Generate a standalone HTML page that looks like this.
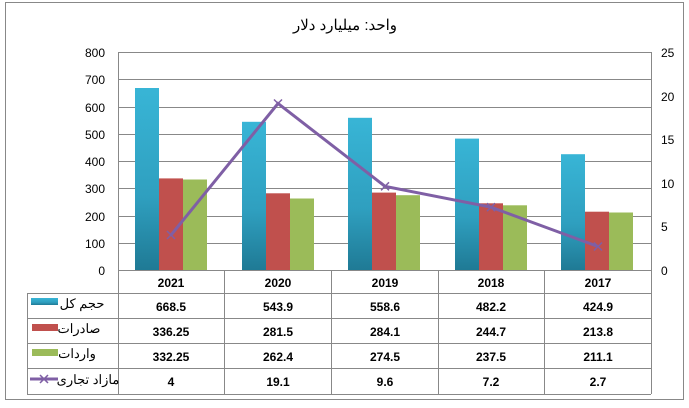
<!DOCTYPE html><html><head><meta charset="utf-8"><style>body{margin:0;background:#fff}svg text{font-family:"Liberation Sans","Noto Sans CJK SC",sans-serif}</style></head><body>
<svg width="689" height="403" xmlns="http://www.w3.org/2000/svg">
<defs><linearGradient id="b" x1="0" y1="0" x2="0" y2="1"><stop offset="0" stop-color="#38b5d6"/><stop offset="0.6" stop-color="#2f9fbf"/><stop offset="1" stop-color="#1f7a95"/></linearGradient></defs>
<rect x="5.5" y="2.5" width="678" height="397" fill="#fff" stroke="#888"/>
<text x="345" y="30" font-size="15" text-anchor="middle">واحد: میلیارد دلار</text>
<g stroke="#888" stroke-width="1">
<line x1="118" y1="52.5" x2="651" y2="52.5"/><line x1="118" y1="79.5" x2="651" y2="79.5"/><line x1="118" y1="107.5" x2="651" y2="107.5"/><line x1="118" y1="134.5" x2="651" y2="134.5"/><line x1="118" y1="161.5" x2="651" y2="161.5"/><line x1="118" y1="188.5" x2="651" y2="188.5"/><line x1="118" y1="216.5" x2="651" y2="216.5"/><line x1="118" y1="243.5" x2="651" y2="243.5"/>
<line x1="118.5" y1="52" x2="118.5" y2="394"/><line x1="651.5" y1="52" x2="651.5" y2="394"/>
</g>
<g font-size="12" text-anchor="end"><text x="105" y="57">800</text><text x="105" y="84">700</text><text x="105" y="112">600</text><text x="105" y="139">500</text><text x="105" y="166">400</text><text x="105" y="193">300</text><text x="105" y="221">200</text><text x="105" y="248">100</text><text x="105" y="275">0</text></g>
<g font-size="12"><text x="661" y="57">25</text><text x="661" y="101">20</text><text x="661" y="144">15</text><text x="661" y="188">10</text><text x="661" y="231">5</text><text x="661" y="275">0</text></g>
<g>
<rect x="135" y="88" width="24" height="182" fill="url(#b)"/><rect x="159" y="178.4" width="24" height="91.6" fill="#c0504d"/><rect x="183" y="179.5" width="24" height="90.5" fill="#9bbb59"/>
<rect x="242" y="121.8" width="24" height="148.2" fill="url(#b)"/><rect x="266" y="193.3" width="24" height="76.7" fill="#c0504d"/><rect x="290" y="198.5" width="24" height="71.5" fill="#9bbb59"/>
<rect x="348" y="117.8" width="24" height="152.2" fill="url(#b)"/><rect x="372" y="192.6" width="24" height="77.4" fill="#c0504d"/><rect x="396" y="195.2" width="24" height="74.8" fill="#9bbb59"/>
<rect x="455" y="138.6" width="24" height="131.4" fill="url(#b)"/><rect x="479" y="203.3" width="24" height="66.7" fill="#c0504d"/><rect x="503" y="205.3" width="24" height="64.7" fill="#9bbb59"/>
<rect x="561" y="154.2" width="24" height="115.8" fill="url(#b)"/><rect x="585" y="211.7" width="24" height="58.3" fill="#c0504d"/><rect x="609" y="212.5" width="24" height="57.5" fill="#9bbb59"/>
</g>
<polyline points="171,235.1 278,103.5 385,186.3 491,207.2 598,246.5" fill="none" stroke="#7f5fa5" stroke-width="3"/>
<g stroke="#7f5fa5" stroke-width="1.5"><path d="M167 231l8 8M175 231l-8 8M274 99.5l8 8M282 99.5l-8 8M381 182.3l8 8M389 182.3l-8 8M487 203.2l8 8M495 203.2l-8 8M594 242.5l8 8M602 242.5l-8 8"/></g>
<g stroke="#888" stroke-width="1" fill="none">
<line x1="118" y1="270.5" x2="651" y2="270.5"/>
<line x1="27" y1="293.5" x2="651" y2="293.5"/><line x1="27" y1="318.5" x2="651" y2="318.5"/><line x1="27" y1="343.5" x2="651" y2="343.5"/><line x1="27" y1="368.5" x2="651" y2="368.5"/><line x1="27" y1="394.5" x2="651" y2="394.5"/>
<line x1="27.5" y1="293" x2="27.5" y2="394"/><line x1="224.5" y1="270" x2="224.5" y2="394"/><line x1="331.5" y1="270" x2="331.5" y2="394"/><line x1="438.5" y1="270" x2="438.5" y2="394"/><line x1="544.5" y1="270" x2="544.5" y2="394"/>
</g>
<g font-size="12" font-weight="bold" text-anchor="middle">
<text x="171" y="287">2021</text><text x="278" y="287">2020</text><text x="385" y="287">2019</text><text x="491" y="287">2018</text><text x="598" y="287">2017</text>
<text x="171" y="311">668.5</text><text x="278" y="311">543.9</text><text x="385" y="311">558.6</text><text x="491" y="311">482.2</text><text x="598" y="311">424.9</text>
<text x="171" y="336">336.25</text><text x="278" y="336">281.5</text><text x="385" y="336">284.1</text><text x="491" y="336">244.7</text><text x="598" y="336">213.8</text>
<text x="171" y="361">332.25</text><text x="278" y="361">262.4</text><text x="385" y="361">274.5</text><text x="491" y="361">237.5</text><text x="598" y="361">211.1</text>
<text x="171" y="386">4</text><text x="278" y="386">19.1</text><text x="385" y="386">9.6</text><text x="491" y="386">7.2</text><text x="598" y="386">2.7</text>
</g>
<rect x="31" y="298" width="27" height="7" fill="url(#b)"/><rect x="32" y="324" width="26" height="7" fill="#c0504d"/><rect x="32" y="349" width="26" height="7" fill="#9bbb59"/>
<line x1="30" y1="379" x2="58" y2="379" stroke="#7f5fa5" stroke-width="3"/><path d="M40 375l8 8M48 375l-8 8" stroke="#7f5fa5" stroke-width="1.5"/>
<g font-size="13" text-anchor="middle"><text x="82" y="308">حجم کل</text><text x="79" y="333">صادرات</text><text x="77" y="358">واردات</text><text x="88" y="384">مازاد تجاری</text></g>
</svg></body></html>
